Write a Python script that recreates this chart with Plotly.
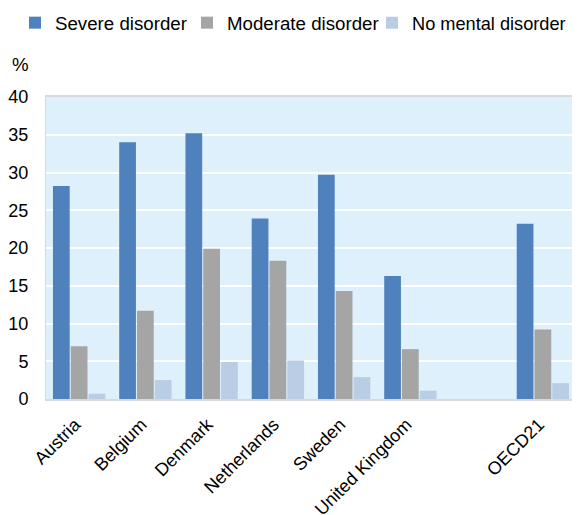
import plotly.graph_objects as go

categories = ["Austria", "Belgium", "Denmark", "Netherlands", "Sweden", "United Kingdom", " ", "OECD21"]
severe = [28.2, 34.0, 35.2, 23.9, 29.7, 16.3, None, 23.2]
moderate = [7.0, 11.7, 19.9, 18.3, 14.3, 6.6, None, 9.2]
no_disorder = [0.7, 2.5, 4.9, 5.1, 2.9, 1.1, None, 2.1]

series = [
    ("Severe disorder", severe, "#4F81BD", "legend"),
    ("Moderate disorder", moderate, "#A5A5A5", "legend2"),
    ("No mental disorder", no_disorder, "#B9CDE5", "legend3"),
]

fig = go.Figure()
for name, vals, color, lg in series:
    fig.add_trace(go.Bar(
        x=categories, y=vals, name=name, legend=lg, showlegend=True,
        marker=dict(color=color, line=dict(width=0)),
    ))

font = "Arial, Liberation Sans, sans-serif"
# page body has an 8px offset, so figure is 572x507
W, H = 572, 507


def legend_cfg(x, size=18.7):
    return dict(
        orientation="h", x=x, xanchor="left", xref="container",
        y=1 - 15 / H, yanchor="middle", yref="container",
        font=dict(size=size), bgcolor="rgba(0,0,0,0)",
    )


fig.update_layout(
    width=W, height=H,
    showlegend=True,
    margin=dict(l=38, r=4, t=89, b=116, pad=0),
    paper_bgcolor="white",
    plot_bgcolor="#DEF0FC",
    barmode="group",
    bargap=0.194,
    bargroupgap=0.06,
    font=dict(family=font, size=18.7, color="#000"),
    legend=legend_cfg(7 / W),
    legend2=legend_cfg(179 / W),
    legend3=legend_cfg(364 / W, 18.2),
    annotations=[dict(
        text="%", xref="paper", yref="paper", x=-26 / 530, y=1 + 32 / 302,
        xanchor="center", yanchor="middle", showarrow=False,
        font=dict(size=18.7),
    )],
)
fig.update_xaxes(
    type="category", tickangle=-45, tickfont=dict(size=18), automargin=False,
    showline=True, linecolor="#D9D9D9", linewidth=2, mirror=True,
    showgrid=False, ticks="", ticklabelstandoff=6, ticklabelshift=-4,
)
fig.update_yaxes(
    range=[0, 40], dtick=5, showgrid=True, gridcolor="white", gridwidth=2,
    showline=True, linecolor="#D9D9D9", linewidth=1, mirror=True, automargin=False,
    zeroline=False, ticks="", ticklabelstandoff=13, tickfont=dict(size=18),
)
fig.write_html("out.html")
